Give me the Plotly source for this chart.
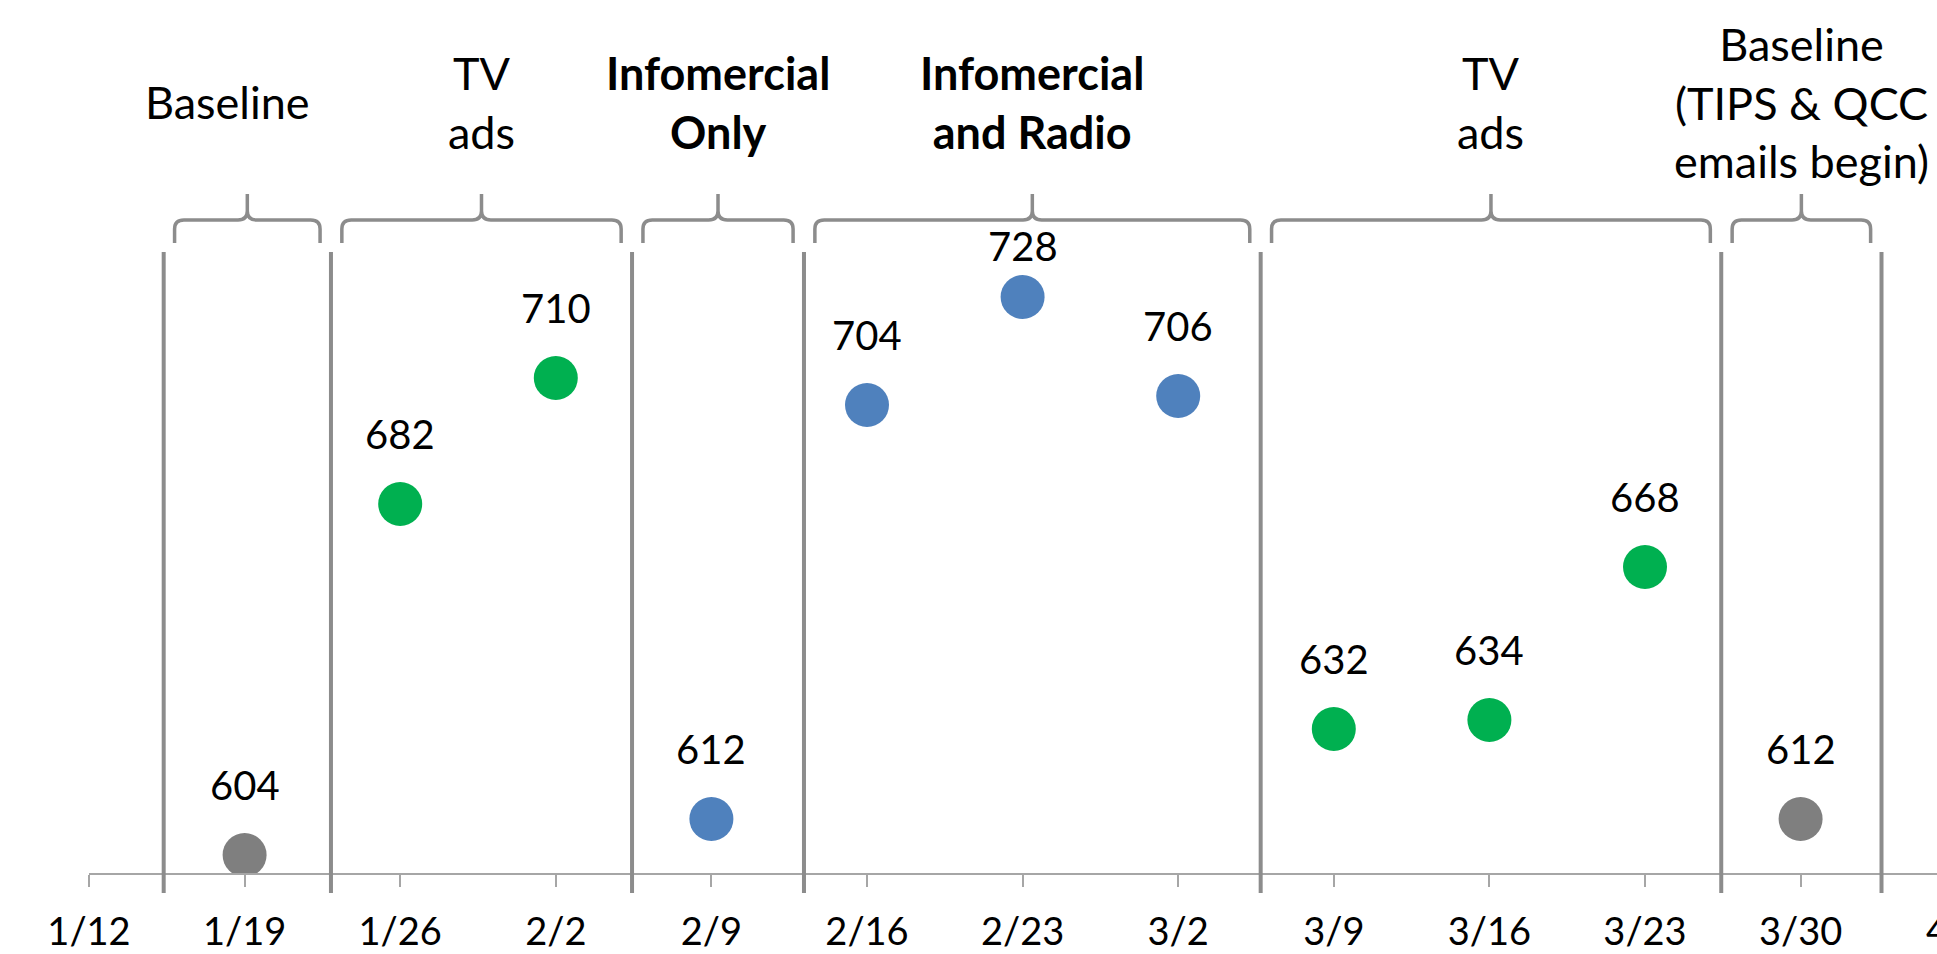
import plotly.graph_objects as go

# Weekly axis labels (week of ...)
weeks = ["1/12", "1/19", "1/26", "2/2", "2/9", "2/16", "2/23", "3/2",
         "3/9", "3/16", "3/23", "3/30", "4/6"]

# Weekly call volumes and the media running that week
point_weeks = ["1/19", "1/26", "2/2", "2/9", "2/16", "2/23", "3/2",
               "3/9", "3/16", "3/23", "3/30"]
calls = [604, 682, 710, 612, 704, 728, 706, 632, 634, 668, 612]
point_media = ["Baseline", "TV", "TV", "Infomercial", "Infomercial",
               "Infomercial", "Infomercial", "TV", "TV", "TV", "Baseline"]

# Campaign periods and their boundaries (in weeks after 1/12)
period_labels = [
    "Baseline",
    "TV<br>ads",
    "<b>Infomercial</b><br><b>Only</b>",
    "<b>Infomercial</b><br><b>and Radio</b>",
    "TV<br>ads",
    "Baseline<br>(TIPS & QCC<br>emails begin)",
]
period_edges = [0.48, 1.555, 3.49, 4.595, 7.53, 10.49, 11.52]

media_colors = {"Baseline": "#7f7f7f", "TV": "#00b050", "Infomercial": "#4f81bd"}

FONT = "Lato, 'Open Sans', sans-serif"
W, H = 1937, 954
M_L, M_B = 89, 81
PLOT_H = H - M_B
WEEK_PX = 155.6
X_MAX = (W - M_L) / WEEK_PX
GRAY = "#8c8c8c"
AXIS_GRAY = "#a6a6a6"


def py(px):
    """Pixel row (from top) to paper y."""
    return (PLOT_H - px) / PLOT_H


xs = [weeks.index(w) for w in point_weeks]
colors = [media_colors[m] for m in point_media]

fig = go.Figure()
fig.add_trace(go.Scatter(
    x=xs, y=calls, mode="markers",
    marker=dict(size=44, color=colors, line=dict(width=0)),
    hoverinfo="x+y", showlegend=False,
))

annotations = []
# value labels above each dot
for x, v in zip(xs, calls):
    shift = 51 if v == max(calls) else 70
    annotations.append(dict(
        x=x, y=v, xref="x", yref="y", text=str(v), showarrow=False,
        yshift=shift, font=dict(family=FONT, size=40, color="black"),
    ))

shapes = []
# period dividers
for e in period_edges:
    shapes.append(dict(
        type="line", xref="x", yref="paper", x0=e, x1=e,
        y0=py(893), y1=py(252), line=dict(color=GRAY, width=4),
    ))

# braces and period names
gap = 0.07
rh = 0.06
rv = 9 / PLOT_H
yH, yEnd, yNub = py(220), py(243), py(194)
for i, label in enumerate(period_labels):
    x0 = period_edges[i] + gap
    x1 = period_edges[i + 1] - gap
    xm = (x0 + x1) / 2
    path = (
        f"M {x0},{yEnd} L {x0},{yH - rv} Q {x0},{yH} {x0 + rh},{yH} "
        f"L {xm - rh},{yH} Q {xm},{yH} {xm},{yH + rv} L {xm},{yNub} "
        f"M {xm},{yH + rv} Q {xm},{yH} {xm + rh},{yH} "
        f"L {x1 - rh},{yH} Q {x1},{yH} {x1},{yH - rv} L {x1},{yEnd}"
    )
    shapes.append(dict(type="path", xref="x", yref="paper", path=path,
                       line=dict(color=GRAY, width=3.5)))
    annotations.append(dict(
        x=xm, y=py(102), xref="x", yref="paper", text=label,
        showarrow=False, yanchor="middle", xshift=-20 if i == 0 else 0,
        font=dict(family=FONT, size=45, color="black"),
    ))

# last week label sits past the right edge of the axis
annotations.append(dict(
    x=(len(weeks) - 1) / X_MAX, y=0, xref="paper", yref="paper",
    text=weeks[-1], showarrow=False, xanchor="center", yanchor="middle",
    yshift=-56, font=dict(family=FONT, size=38, color="black"),
))

fig.update_layout(
    width=W, height=H,
    margin=dict(l=M_L, r=0, t=0, b=M_B, pad=0),
    paper_bgcolor="white", plot_bgcolor="white",
    shapes=shapes, annotations=annotations,
    xaxis=dict(
        range=[0, X_MAX], tickmode="array",
        tickvals=list(range(len(weeks) - 1)), ticktext=weeks[:-1],
        showgrid=False, zeroline=False, showline=True,
        linecolor=AXIS_GRAY, linewidth=2,
        ticks="outside", ticklen=12, tickwidth=2, tickcolor=AXIS_GRAY,
        ticklabelstandoff=12,
        tickfont=dict(family=FONT, size=38, color="black"),
    ),
    yaxis=dict(range=[600, 600 + PLOT_H / 4.5], visible=False,
               showgrid=False, zeroline=False),
)

fig.write_html("out.html")
